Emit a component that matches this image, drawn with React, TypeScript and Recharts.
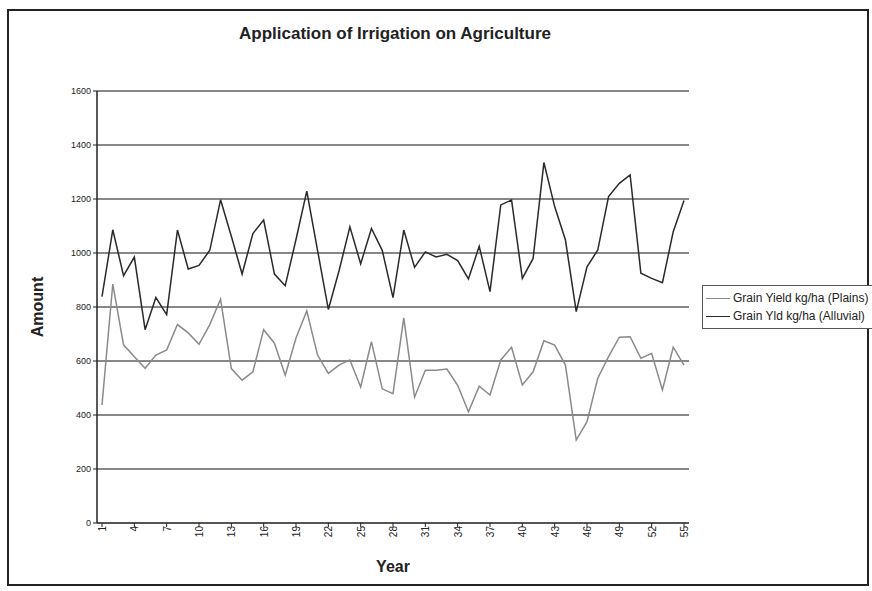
import React from "react";
import {
  LineChart,
  Line,
  XAxis,
  YAxis,
  CartesianGrid,
} from "recharts";

const years = Array.from({ length: 55 }, (_, i) => i + 1);

const plains = [
  437, 885, 660, 616, 573, 622, 641, 735, 704, 662,
  735, 829, 572, 529, 560, 716, 666, 547, 685, 785,
  622, 554, 585, 604, 504, 672, 497, 479, 760, 466,
  566, 566, 570, 510, 412, 507, 474, 604, 651, 511,
  560, 675, 659, 585, 307, 375, 536, 616, 688, 690,
  610, 628, 493, 651, 585,
];

const alluvial = [
  838, 1086, 916, 985, 716, 835, 772, 1085, 941, 954,
  1010, 1197, 1062, 922, 1072, 1122, 922, 879, 1050, 1229,
  1010, 791, 935, 1097, 960, 1091, 1010, 835, 1085, 947,
  1004, 985, 995, 972, 904, 1025, 857, 1178, 1196, 906,
  980, 1335, 1172, 1048, 783, 949, 1011, 1209, 1258, 1289,
  925, 906, 890, 1079, 1194,
];

const yTicks = [0, 200, 400, 600, 800, 1000, 1200, 1400, 1600];
const xTicks = [1, 4, 7, 10, 13, 16, 19, 22, 25, 28, 31, 34, 37, 40, 43, 46, 49, 52, 55];

const data = years.map((y, i) => ({
  year: y,
  plains: plains[i],
  alluvial: alluvial[i],
}));

const font = "'Liberation Sans', Arial, sans-serif";

const legendItems = [
  { name: "Grain Yield kg/ha (Plains)", color: "#8a8a8a" },
  { name: "Grain Yld kg/ha (Alluvial)", color: "#2a2a2a" },
];

function LegendBox() {
  return (
    <div
      style={{
        position: "absolute",
        left: 702,
        top: 285,
        border: "1px solid #555",
        background: "#fff",
        padding: "3px 0 3px 3px",
        fontFamily: font,
        fontSize: 12,
        color: "#222",
        width: 200,
      }}
    >
      {legendItems.map((it) => (
        <div key={it.name} style={{ display: "flex", alignItems: "center", height: 18, whiteSpace: "nowrap" }}>
          <span style={{ display: "inline-block", width: 24, height: 0, borderTop: `1.5px solid ${it.color}`, marginRight: 3 }} />
          {it.name}
        </div>
      ))}
    </div>
  );
}

export default function App() {
  return (
    <div style={{ position: "fixed", left: 0, top: 0, width: 872, height: 591, background: "#fff", overflow: "hidden" }}>
      <div
        style={{
          position: "absolute",
          left: 7,
          top: 9,
          width: 862,
          height: 577,
          border: "2px solid #222",
          boxSizing: "border-box",
        }}
      />
      <div
        style={{
          position: "absolute",
          left: 0,
          width: 790,
          top: 24,
          textAlign: "center",
          fontFamily: font,
          fontWeight: "bold",
          fontSize: 17,
          color: "#222",
        }}
      >
        Application of Irrigation on Agriculture
      </div>
      <div
        style={{
          position: "absolute",
          left: 38 - 40,
          top: 298,
          width: 80,
          textAlign: "center",
          transform: "rotate(-90deg)",
          fontFamily: font,
          fontWeight: "bold",
          fontSize: 16,
          color: "#222",
        }}
      >
        Amount
      </div>
      <div
        style={{
          position: "absolute",
          left: 353,
          width: 80,
          top: 558,
          textAlign: "center",
          fontFamily: font,
          fontWeight: "bold",
          fontSize: 16,
          color: "#222",
        }}
      >
        Year
      </div>
      <div style={{ position: "absolute", left: 0, top: 0 }}>
        <LineChart width={872} height={591} data={data} margin={{ top: 91, right: 183, bottom: 33, left: 57 }}>
          <CartesianGrid horizontal vertical={false} stroke="#111" strokeWidth={1} />
          <XAxis
            dataKey="year"
            ticks={xTicks}
            interval={0}
            padding={{ left: 5, right: 5 }}
            axisLine={{ stroke: "#222" }}
            tickLine={{ stroke: "#222" }}
            tickSize={4}
            angle={-90}
            textAnchor="end"
            dy={-3}
            dx={-3}
            height={35}
            tick={{ fontSize: 10, fill: "#222", fontFamily: font }}
          />
          <YAxis
            domain={[0, 1600]}
            ticks={yTicks}
            interval={0}
            width={40}
            axisLine={{ stroke: "#222", strokeWidth: 1.5 }}
            tickLine={{ stroke: "#222" }}
            tickSize={4}
            tick={{ fontSize: 9, fill: "#222", fontFamily: font }}
          />
          <YAxis
            yAxisId="r"
            orientation="right"
            domain={[0, 1600]}
            tick={false}
            tickLine={false}
            width={0}
            axisLine={{ stroke: "#333" }}
          />
          <Line
            type="linear"
            dataKey="plains"
            name="Grain Yield kg/ha (Plains)"
            stroke="#8a8a8a"
            strokeWidth={1.5}
            dot={false}
            isAnimationActive={false}
          />
          <Line
            type="linear"
            dataKey="alluvial"
            name="Grain Yld kg/ha (Alluvial)"
            stroke="#2a2a2a"
            strokeWidth={1.5}
            dot={false}
            isAnimationActive={false}
          />
        </LineChart>
      </div>
      <LegendBox />
    </div>
  );
}
